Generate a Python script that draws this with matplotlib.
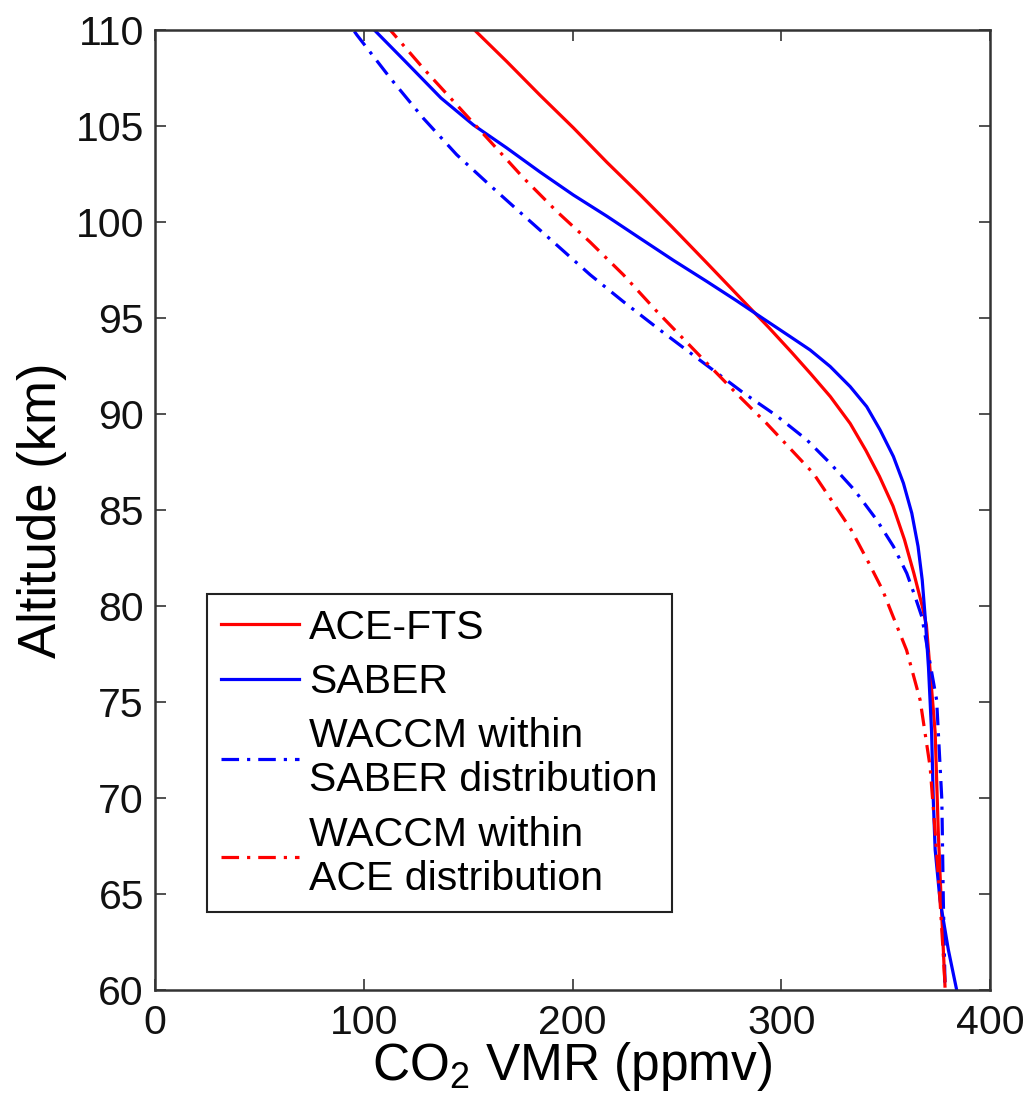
import matplotlib
matplotlib.use("Agg")
import matplotlib.pyplot as plt

# profiles: altitude (km) and CO2 VMR (ppmv)
ace_alt = [60.2, 63.8, 68.2, 73.4, 79.0, 80.0, 81.7, 83.45, 85.2, 86.75, 88.1,
           89.5, 90.9, 92.1, 93.2, 94.5, 95.8, 97.9, 99.7, 101.4, 103.1, 104.9,
           106.6, 108.35, 110]
ace_fts = [378.4, 376.9, 375.2, 373.7, 369.5, 367.5, 363.5, 359, 353.5, 347,
           340.5, 333, 323.5, 314, 305, 294, 282.5, 264, 248, 232.5, 216.5,
           200.4, 184.4, 168.5, 153]

saber_alt = [60, 62.1, 64.7, 67.3, 69.9, 73.4, 76.8, 79.44, 81.35, 83.1, 84.83,
             86.39, 87.78, 89.17, 90.38, 91.42, 92.47, 93.33, 94.03, 94.95, 95.9,
             96.9, 98.0, 99.15, 100.3, 101.4, 102.6, 103.85, 105.05, 106.45,
             108.4, 110]
saber = [384, 380, 376, 373.7, 372.8, 372, 370.5, 368.9, 367.5, 365.5, 362.5,
         358.5, 353.7, 347.3, 340.9, 333, 323.4, 313.8, 304.2, 291.5, 278.5,
         264.3, 248.3, 232.3, 216.4, 200.4, 184.4, 168.5, 152.5, 137, 119.5,
         105]

wsab_alt = [60.4, 64.7, 69.9, 75.1, 79.44, 80.48, 81.7, 83.1, 84.48, 86.04,
            87.43, 88.65, 89.9, 91.1, 92.8, 94.5, 95.85, 97.25, 98.8, 100.35,
            101.9, 103.5, 105.4, 107.5, 109.75, 110]
waccm_saber = [378.4, 377.6, 376.9, 374.4, 367.3, 364.1, 360.1, 353.7, 345.7,
               335, 323.4, 312.2, 297.8, 281.8, 261, 240.3, 224.3, 208.4, 192.4,
               176.4, 160.5, 144.5, 128.5, 112.6, 96.6, 95]

wace_alt = [60.4, 64.7, 68.2, 71.6, 75.1, 77.7, 79.62, 80.83, 82.22, 83.96,
            85.35, 86.9, 88.2, 89.5, 90.9, 92.65, 95.35, 97.25, 98.95, 100.55,
            102.3, 104.2, 106.1, 108.0, 110]
waccm_ace = [378.4, 376, 373.7, 371.3, 366.5, 360, 352.9, 348.5, 342, 333.5,
             325, 315.4, 304.2, 293, 280, 264.3, 240.3, 224.3, 208.4, 192.4,
             176.4, 160.5, 144.5, 128.5, 112.6]

labels = ["ACE-FTS", "SABER", "WACCM within\nSABER distribution",
          "WACCM within\nACE distribution"]

plt.rcParams.update({
    "font.family": ["Liberation Sans", "DejaVu Sans"],
    "mathtext.fontset": "custom",
    "mathtext.rm": "Liberation Sans",
    "mathtext.it": "Liberation Sans:italic",
    "xtick.direction": "in",
    "ytick.direction": "in",
    "xtick.top": True,
    "ytick.right": True,
})

fig = plt.figure(figsize=(10.28, 11.03), dpi=100)
ax = fig.add_axes([0.1508, 0.1025, 0.8123, 0.8704])

lw = 2.3
dashdot = (0, (5.5, 2.5, 1, 2.5))
line_kw = dict(lw=lw, solid_joinstyle="round", dash_joinstyle="round")
ax.plot(ace_fts, ace_alt, color="#ff0000", label=labels[0], **line_kw)
ax.plot(saber, saber_alt, color="#0000ff", label=labels[1], **line_kw)
ax.plot(waccm_saber, wsab_alt, color="#0000ff", ls=dashdot, label=labels[2],
        **line_kw)
ax.plot(waccm_ace, wace_alt, color="#ff0000", ls=dashdot, label=labels[3],
        **line_kw)

ax.set_xlim(0, 400)
ax.set_ylim(60, 110)
ax.set_xticks([0, 100, 200, 300, 400])
ax.set_yticks(range(60, 111, 5))
ax.tick_params(labelsize=29.5, length=8, width=1.2, colors="#333333",
               labelcolor="#111111")
ax.tick_params(axis="x", pad=10)
ax.tick_params(axis="y", pad=8)
for s in ax.spines.values():
    s.set_linewidth(1.8)
    s.set_color("#333333")

ax.set_xlabel("CO$_2$ VMR (ppmv)", fontsize=37, labelpad=-1)
ax.set_ylabel("Altitude (km)", fontsize=38, labelpad=6)

leg = ax.legend(loc="lower left", bbox_to_anchor=(0.062, 0.081),
                borderaxespad=0, fontsize=29.5, fancybox=False,
                handlelength=1.9, handletextpad=0.25, labelspacing=0.4,
                borderpad=0.35, framealpha=1)
leg.get_frame().set_edgecolor("#222222")
leg.get_frame().set_linewidth(1.5)

fig.savefig("out.png", dpi=100)
